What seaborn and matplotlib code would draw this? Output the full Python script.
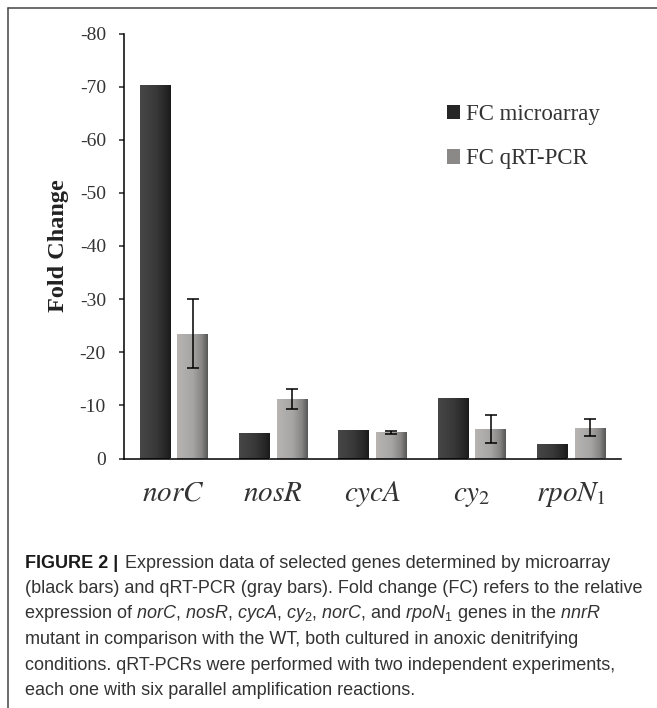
import numpy as np
import pandas as pd
import matplotlib
matplotlib.use("Agg")
import matplotlib.pyplot as plt
import seaborn as sns
from matplotlib.colors import LinearSegmentedColormap
from matplotlib.lines import Line2D
from matplotlib.patches import Patch

# ---------------- data ----------------
genes = [r"$norC$", r"$nosR$", r"$cycA$", r"$cy_{\mathit{2}}$", r"$rpoN_{\mathit{1}}$"]
methods = ["FC microarray", "FC qRT-PCR"]
fc_microarray = [-70.3, -4.75, -5.3, -11.35, -2.7]
fc_qrtpcr = [-23.5, -11.2, -4.9, -5.6, -5.75]
qrtpcr_err = [6.55, 1.9, 0.35, 2.65, 1.6]
yticks = [0, -10, -20, -30, -40, -50, -60, -70, -80]
ylabel = "Fold Change"

caption_bold = "FIGURE 2 |"
caption_lines = [
    "Expression data of selected genes determined by microarray",
    "(black bars) and qRT-PCR (gray bars). Fold change (FC) refers to the relative",
    r"expression of $norC$, $nosR$, $cycA$, $cy_\mathrm{2}$, $norC$, and $rpoN_\mathrm{1}$ genes in the $nnrR$",
    "mutant in comparison with the WT, both cultured in anoxic denitrifying",
    "conditions. qRT-PCRs were performed with two independent experiments,",
    "each one with six parallel amplification reactions.",
]

# ---------------- style ----------------
sns.set_theme(style="white")
plt.rcParams["font.family"] = ["Liberation Serif", "DejaVu Serif"]
plt.rcParams["axes.unicode_minus"] = False
plt.rcParams["mathtext.fontset"] = "custom"
plt.rcParams["mathtext.rm"] = "Liberation Sans"
plt.rcParams["mathtext.it"] = "Liberation Sans:italic"
plt.rcParams["mathtext.bf"] = "Liberation Sans:bold"

W, H = 657, 708
fig = plt.figure(figsize=(W / 100, H / 100), dpi=100)
ax = fig.add_axes([124 / W, 1 - 458.5 / H, (620.7 - 124) / W, (458.5 - 33.5) / H])

df = pd.DataFrame({
    "gene": genes * 2,
    "method": [methods[0]] * len(genes) + [methods[1]] * len(genes),
    "value": fc_microarray + fc_qrtpcr,
})

dark_base, gray_base = "#2e2e2e", "#9a9896"
sns.barplot(data=df, x="gene", y="value", hue="method", order=genes,
            hue_order=methods, palette=[dark_base, gray_base],
            width=0.76, gap=0.19, errorbar=None, legend=False, ax=ax,
            linewidth=0, saturation=1)

# gradient fill for bars
dark_cmap = LinearSegmentedColormap.from_list(
    "dark", [(0, "#474747"), (0.5, "#393939"), (0.85, "#262626"), (1, "#1a1a1a")])
gray_cmap = LinearSegmentedColormap.from_list(
    "gray", [(0, "#b7b4b2"), (0.5, "#a8a6a4"), (0.8, "#878685"), (1, "#565656")])
grad = np.linspace(0, 1, 256).reshape(1, -1)
n = len(genes)
bar_patches = list(ax.patches)
groups = [bar_patches[:n], bar_patches[n:2 * n]]
for patches, cmap in zip(groups, [dark_cmap, gray_cmap]):
    for p in patches:
        x0, w = p.get_x(), p.get_width()
        y0, h = p.get_y(), p.get_height()
        im = ax.imshow(grad, cmap=cmap, aspect="auto", origin="lower",
                       extent=(x0, x0 + w, y0, y0 + h),
                       interpolation="bilinear", zorder=p.get_zorder() + 0.1)
        im.set_clip_path(p)

# error bars for qRT-PCR
xc = [p.get_x() + p.get_width() / 2 for p in groups[1]]
ax.errorbar(xc, fc_qrtpcr, yerr=qrtpcr_err, fmt="none", ecolor="black",
            elinewidth=1.1, capsize=4, capthick=1.1, zorder=5)

ax.set_xlim(-0.5, len(genes) - 0.5)
ax.set_ylim(0, -80)
ax.set_yticks(yticks)
ax.set_yticklabels([str(v) for v in yticks])
ax.set_xlabel("")
ax.set_ylabel(ylabel, fontsize=17.5, fontweight="bold", color="#222222")
ax.yaxis.set_label_coords(-0.111, 0.5)

for s in ["top", "right"]:
    ax.spines[s].set_visible(False)
for s in ["left", "bottom"]:
    ax.spines[s].set_linewidth(1.1)
    ax.spines[s].set_color("black")
ax.tick_params(axis="y", direction="out", length=3.6, width=1.1, pad=9.4,
               labelsize=14, labelcolor="#333333", left=True)
ax.tick_params(axis="x", length=0, pad=30.4, labelsize=21, labelcolor="#333333")
for lbl in ax.get_xticklabels():
    lbl.set_math_fontfamily("stix")
    lbl.set_va("baseline")

handles = [Patch(facecolor="#262626", edgecolor="none"),
           Patch(facecolor="#8a8988", edgecolor="none")]
ax.legend(handles, methods, loc="upper left",
          bbox_to_anchor=(446.5 / W, 1 - 104 / H), bbox_transform=fig.transFigure,
          frameon=False, fontsize=16.5, handlelength=0.6, handleheight=0.6,
          handletextpad=0.25, labelspacing=1.02, borderpad=0, borderaxespad=0,
          labelcolor="#333333")

# figure frame lines (top and left)
fig.add_artist(Line2D([8.3 / W, 1], [1 - 8.3 / H] * 2, transform=fig.transFigure,
                      color="#444444", lw=1.1))
fig.add_artist(Line2D([8.3 / W] * 2, [0, 1 - 8.3 / H], transform=fig.transFigure,
                      color="#444444", lw=1.1))

# caption
cap_family = ["Liberation Sans", "DejaVu Sans"]
x_left = 25 / W
baselines = [567.5 + 25.5 * i for i in range(len(caption_lines))]
fs0 = 10.0
tb = fig.text(x_left, 1 - baselines[0] / H, caption_bold, family=cap_family,
              fontweight="bold", fontsize=fs0, color="#1a1a1a", va="baseline")
texts = []
for i, line in enumerate(caption_lines):
    xoff = -1.5 / W if "$" in line else 0
    t = fig.text(x_left + xoff, 1 - baselines[i] / H, line, family=cap_family,
                 fontsize=fs0, color="#333333", va="baseline")
    texts.append(t)
renderer = fig.canvas.get_renderer()
wb = tb.get_window_extent(renderer).width
w1 = texts[0].get_window_extent(renderer).width
gap = 0.35 * fs0 * 100 / 72
scale = (610 - 25) / (wb + gap + w1)
fs = fs0 * scale
tb.set_fontsize(fs)
for t in texts:
    t.set_fontsize(fs)
wb = tb.get_window_extent(renderer).width
texts[0].set_x(x_left + (wb + 0.35 * fs * 100 / 72) / W)

fig.savefig("out.png", dpi=100)
